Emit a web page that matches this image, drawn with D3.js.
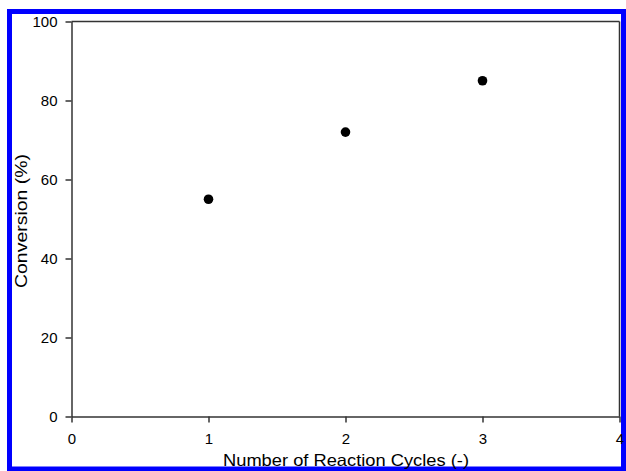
<!DOCTYPE html>
<html><head><meta charset="utf-8">
<script src="https://cdn.jsdelivr.net/npm/d3@7"></script>
<style>html,body{margin:0;padding:0;background:#fff;}svg{display:block;}</style>
</head><body>
<script>
const cycles = [1, 2, 3];
const conversion = [55, 72, 85];
const xTicks = [0, 1, 2, 3, 4];
const yTicks = [0, 20, 40, 60, 80, 100];

const W = 626, H = 471;
const svg = d3.select("body").append("svg").attr("width", W).attr("height", H);
svg.append("rect").attr("x", 0).attr("y", 0).attr("width", W).attr("height", H).attr("fill", "#fff");
// blue frame
svg.append("rect").attr("x", 9.5).attr("y", 11.5).attr("width", 614).attr("height", 457.5)
  .attr("fill", "none").attr("stroke", "#0000ff").attr("stroke-width", 5);

const L = 71.5, R = 619.5, T = 21.5, B = 416.5;
const x = d3.scaleLinear().domain([0, 4]).range([L, R]);
const y = d3.scaleLinear().domain([0, 100]).range([B, T]);
const font = "Liberation Sans, Arial, sans-serif";

const xa = svg.append("g").attr("transform", `translate(0,${B})`)
  .call(d3.axisBottom(x).tickValues(xTicks).tickFormat(d3.format("d")).tickSize(6).tickPadding(11).tickSizeOuter(0));
const ya = svg.append("g").attr("transform", `translate(${L},0)`)
  .call(d3.axisLeft(y).tickValues(yTicks).tickFormat(d3.format("d")).tickSize(6).tickPadding(8).tickSizeOuter(0));
[xa, ya].forEach(a => {
  a.selectAll("path,line").attr("stroke", "#333").attr("stroke-width", 1.5);
  a.selectAll("text").attr("font-family", font).attr("font-size", 15).attr("fill", "#000");
});
// top and right frame lines
svg.append("line").attr("x1", L).attr("x2", R).attr("y1", T).attr("y2", T).attr("stroke", "#333").attr("stroke-width", 1.5);
svg.append("line").attr("x1", R).attr("x2", R).attr("y1", T).attr("y2", B).attr("stroke", "#333").attr("stroke-width", 1.5);

svg.selectAll("circle.pt").data(cycles.map((c, i) => [c, conversion[i]])).enter()
  .append("circle").attr("class", "pt")
  .attr("cx", d => x(d[0])).attr("cy", d => y(d[1])).attr("r", 4.8).attr("fill", "#000");

svg.append("text").attr("x", 346).attr("y", 466).attr("text-anchor", "middle")
  .attr("font-family", font).attr("font-size", 16.5)
  .attr("textLength", 246).attr("lengthAdjust", "spacingAndGlyphs")
  .text("Number of Reaction Cycles (-)");
svg.append("text").attr("transform", "translate(27,221) rotate(-90)").attr("text-anchor", "middle")
  .attr("font-family", font).attr("font-size", 16.5)
  .attr("textLength", 134).attr("lengthAdjust", "spacingAndGlyphs")
  .text("Conversion (%)");
</script>
</body></html>
